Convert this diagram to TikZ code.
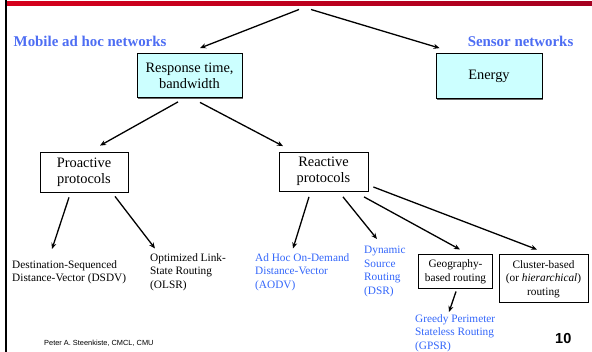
\documentclass[tikz,border=0pt]{standalone}
\usepackage{fontspec}
\setmainfont{Liberation Serif}
\newfontfamily\sansf{Liberation Sans}
\usetikzlibrary{arrows.meta,calc,shadows}
\definecolor{hdrblue}{RGB}{77,109,243}
\definecolor{leafblue}{RGB}{51,102,250}
\definecolor{boxcyan}{RGB}{204,255,255}
\definecolor{redA}{RGB}{214,0,28}
\definecolor{redB}{RGB}{165,0,32}
\begin{document}
\begin{tikzpicture}[x=1pt,y=-1pt,
  arr/.style={line width=1.3pt,-{Stealth[length=6pt,width=5pt]}},
  bigfont/.style={font=\rmfamily\fontsize{14.4}{16}\selectfont},
  cyanbox/.style={bigfont,draw=black,line width=0.8pt,fill=boxcyan,align=center,inner sep=0pt,
     drop shadow={shadow xshift=1.2pt,shadow yshift=-1.2pt,fill=black!60,opacity=1}},
  whitebox/.style={bigfont,draw=black,line width=0.8pt,fill=white,align=center,inner sep=0pt},
  smallbox/.style={font=\rmfamily\fontsize{11.3}{13.5}\selectfont,draw=black,line width=1pt,fill=white,align=center,inner sep=0pt},
  leaf/.style={font=\rmfamily\fontsize{11.3}{13.5}\selectfont,align=left,inner sep=0pt,anchor=north west},
  hdr/.style={font=\rmfamily\fontsize{14.9}{16}\selectfont\bfseries,text=hdrblue,inner sep=0pt}
]
\useasboundingbox (0,0) rectangle (592,352);
% frame decorations
\shade[left color=redA,right color=redB] (7,2) rectangle (592,5.5);
\fill[black] (4.5,0) rectangle (7,352);

% headers
\node[hdr,anchor=west] (mob) at (13.5,41) {Mobile ad hoc networks};
\node[hdr,anchor=east] (sen) at (573.5,41) {Sensor networks};

% boxes
\node[cyanbox,minimum width=105pt,minimum height=44pt] (resp) at (189.5,75.5) {Response time,\\bandwidth};
\node[cyanbox,minimum width=106pt,minimum height=45pt] (energy) at (489,76) {Energy};
\node[whitebox,minimum width=88pt,minimum height=40pt] (pro) at (84,172) {Proactive\\protocols};
\node[whitebox,minimum width=89pt,minimum height=39pt] (rea) at (323.5,171.5) {Reactive\\protocols};
\node[smallbox,minimum width=74pt,minimum height=34pt] (geo) at (455.5,272) {Geography-\\based routing};
\node[smallbox,minimum width=89pt,minimum height=48pt] (clu) at (543.5,279) {Cluster-based\\(or \textit{hierarchical})\\routing};

% leaves
\node[leaf] (dsdv) at (12,260) {Destination-Sequenced\\Distance-Vector (DSDV)};
\node[leaf] (olsr) at (150,253) {Optimized Link-\\State Routing\\(OLSR)};
\node[leaf,text=leafblue] (aodv) at (255,253) {Ad Hoc On-Demand\\Distance-Vector\\(AODV)};
\node[leaf,text=leafblue] (dsr) at (364,246) {Dynamic\\Source\\Routing\\(DSR)};
\node[leaf,text=leafblue] (gpsr) at (415,314) {Greedy Perimeter\\Stateless Routing\\(GPSR)};

% footer
\node[font=\sansf\fontsize{7.4}{9}\selectfont,anchor=west,inner sep=0pt] (foot) at (44,343) {Peter A. Steenkiste, CMCL, CMU};
\node[font=\sansf\bfseries\fontsize{14.5}{16}\selectfont,anchor=west,inner sep=0pt] (pg) at (555,339) {10};

% top connectors
\coordinate (top1) at (299,9.5);
\coordinate (top2) at (311,9.5);
\draw[arr] (top1) -- ($(resp.north)+(10.5,-5)$);
\draw[arr] (top2) -- ($(energy.north west)+(4,-5)$);

% second level
\draw[arr] ($(resp.south)+(-11.5,4)$) -- ($(pro.north)+(16,-6)$);
\draw[arr] ($(resp.south)+(10.5,4.5)$) -- ($(rea.north)+(-40.5,-5.5)$);

% leaves connectors
\draw[arr] ($(pro.south)+(-15,5)$) -- ($(dsdv.north west)+(40,-11)$);
\draw[arr] ($(pro.south)+(31,4)$) -- ($(olsr.north west)+(5,-4.5)$);
\draw[arr] ($(rea.south)+(-14.5,5.5)$) -- ($(aodv.north west)+(38,-4.5)$);
\draw[arr] ($(rea.south)+(19.5,5.5)$) -- ($(dsr.north west)+(13,-7)$);
\draw[arr] ($(rea.south)+(40.5,5.5)$) -- ($(geo.north)+(4.5,-5)$);
\draw[arr] ($(rea.east)+(5,15.5)$) -- ($(clu.north)+(-6.5,-5)$);
\draw[arr] ($(geo.south)+(0.5,2)$) -- ($(gpsr.north west)+(34,-2)$);
\end{tikzpicture}
\end{document}
